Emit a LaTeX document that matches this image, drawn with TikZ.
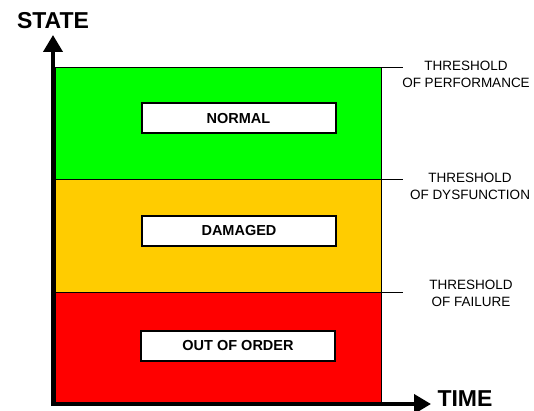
\documentclass[tikz,border=0pt]{standalone}
\usepackage{fontspec}
\setmainfont{Liberation Sans}
\usetikzlibrary{arrows.meta}
\definecolor{normalgreen}{RGB}{0,255,0}
\definecolor{damagedyellow}{RGB}{255,204,0}
\definecolor{failred}{RGB}{255,0,0}
\begin{document}
\begin{tikzpicture}[x=1pt, y=-1pt, inner sep=0pt, outer sep=0pt,
  band/.style={draw=black, line width=1pt},
  statebox/.style={draw=black, line width=2pt, fill=white, minimum width=194pt,
    minimum height=30pt, font=\fontsize{14.5}{17}\selectfont\bfseries},
  thresh/.style={align=center, font=\fontsize{13.5}{17}\selectfont},
  axislabel/.style={font=\fontsize{23}{26}\selectfont\bfseries},
  axistip/.tip={Triangle[length=17pt, width=19pt]}]
\useasboundingbox (0,0) rectangle (534,411);
\path[band, fill=normalgreen] (55,68) rectangle (381,180);
\path[band, fill=damagedyellow] (55,180) rectangle (381,292);
\path[band, fill=failred] (55,292) rectangle (381,402);
\coordinate (perf) at (381,68);
\coordinate (perfend) at (403,68);
\coordinate (dys) at (381,180);
\coordinate (dysend) at (403,180);
\coordinate (fail) at (381,292);
\coordinate (failend) at (403,292);
\draw[line width=1pt] (perf) -- (perfend);
\draw[line width=1pt] (dys) -- (dysend);
\draw[line width=1pt] (fail) -- (failend);
\node[statebox] (normal) at (238.5,118.5) {NORMAL};
\node[statebox] (damaged) at (239,231) {DAMAGED};
\node[statebox] (outoforder) at (238,346) {OUT OF ORDER};
\node[thresh] (perftext) at (466,74.5) {THRESHOLD\\OF PERFORMANCE};
\node[thresh] (dystext) at (470,186) {THRESHOLD\\OF DYSFUNCTION};
\node[thresh] (failtext) at (471,293.5) {THRESHOLD\\OF FAILURE};
\coordinate (origin) at (53,404);
\coordinate (ytip) at (53,35);
\coordinate (xtip) at (431,404);
\draw[line width=4pt, miter limit=4, axistip-axistip] (ytip) |- (xtip);
\node[axislabel] (state) at (53,20.5) {STATE};
\node[axislabel] (time) at (465,399) {TIME};
\end{tikzpicture}
\end{document}
